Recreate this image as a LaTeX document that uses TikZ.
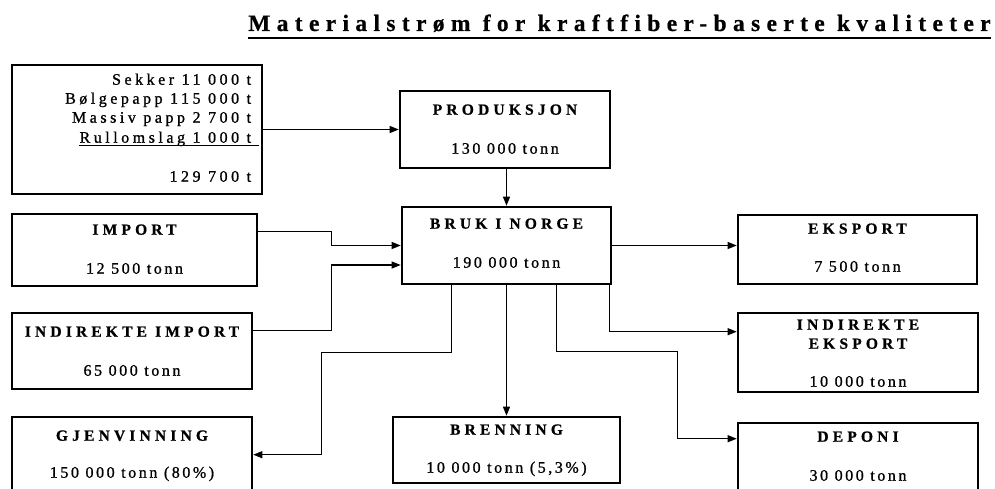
\documentclass[tikz,border=0pt]{standalone}
\usepackage{fontspec}
\setmainfont{Liberation Serif}
\newfontfamily\spT[LetterSpace=27, FakeBold=0.6]{Liberation Serif Bold}
\newfontfamily\spH[LetterSpace=27, FakeBold=0.8]{Liberation Serif Bold}
\newfontfamily\spV[LetterSpace=16, FakeBold=1.0]{Liberation Serif}
\newfontfamily\spS[LetterSpace=22, FakeBold=1.0]{Liberation Serif}
\usetikzlibrary{arrows.meta,calc}
\tikzset{
  box/.style={draw, line width=2.6pt, inner sep=0pt},
  hd/.style={font=\spH\fontsize{15.5}{17}\selectfont, anchor=base, inner sep=0pt},
  val/.style={font=\spV\fontsize{16}{18}\selectfont, anchor=base, inner sep=0pt},
  srct/.style={font=\spS\fontsize{16}{18}\selectfont, anchor=base east, inner sep=0pt},
  arr/.style={line width=1.2pt, -{Triangle[length=9pt,width=7pt]}},
}
\begin{document}
\begin{tikzpicture}[x=1pt,y=-1pt]
\path[use as bounding box] (0,0) rectangle (995,489);
\clip (0,0) rectangle (995,489);
\fill[white] (0,0) rectangle (995,489);

% title
\node[anchor=base west, font=\spT\fontsize{23.5}{27}\selectfont, inner sep=0pt] (ttl) at (248,31) {Materialstrøm for kraftfiber-baserte kvaliteter};
\draw[line width=1.8pt] ($(ttl.base west)+(0,7)$) -- ($(ttl.base east)+(0,7)$);

% boxes
\node[box, minimum width=250pt, minimum height=129pt] (src) at (137,129.5) {};
\node[box, minimum width=210pt, minimum height=77pt] (prod) at (505,129.5) {};
\node[box, minimum width=209pt, minimum height=77pt] (bruk) at (506.5,245.5) {};
\node[box, minimum width=245pt, minimum height=72pt] (imp) at (134.5,250) {};
\node[box, minimum width=240pt, minimum height=76pt] (iimp) at (132,351) {};
\node[box, minimum width=240pt, minimum height=83pt] (gjen) at (132,458.5) {};
\node[box, minimum width=227pt, minimum height=66pt] (bren) at (506.5,450) {};
\node[box, minimum width=239pt, minimum height=69pt] (eks) at (857.5,249.5) {};
\node[box, minimum width=240pt, minimum height=79pt] (ieks) at (858,352.5) {};
\node[box, minimum width=240pt, minimum height=77pt] (dep) at (858,461.5) {};

% source text
\node[srct] (s1) at ($(src.north east)+(-12,21)$) {Sekker 11 000 t};
\node[srct] (s2) at ($(src.north east)+(-12,40)$) {Bølgepapp 115 000 t};
\node[srct] (s3) at ($(src.north east)+(-12,59)$) {Massiv papp 2 700 t};
\node[srct] (s4) at ($(src.north east)+(-12,79)$) {Rullomslag 1 000 t};
\node[srct] (s5) at ($(src.north east)+(-12,118)$) {129 700 t};
\draw[line width=1.2pt] ($(s4.base west)+(0,3)$) -- ($(s4.base west -| src.east)+(-4,3)$);

% box texts
\node[hd] (prodT) at ($(prod.north)+(0,25)$) {PRODUKSJON};
\node[val] (prodV) at ($(prod.north)+(0,64)$) {130 000 tonn};
\node[hd] (brukT) at ($(bruk.north)+(0,23)$) {BRUK I NORGE};
\node[val] (brukV) at ($(bruk.north)+(0,62)$) {190 000 tonn};
\node[hd] (impT) at ($(imp.north)+(0,22)$) {IMPORT};
\node[val] (impV) at ($(imp.north)+(0,61)$) {12 500 tonn};
\node[hd] (iimpT) at ($(iimp.north)+(0,25)$) {INDIREKTE IMPORT};
\node[val] (iimpV) at ($(iimp.north)+(0,64)$) {65 000 tonn};
\node[hd] (gjenT) at ($(gjen.north)+(0,25)$) {GJENVINNING};
\node[val] (gjenV) at ($(gjen.north)+(0,62)$) {150 000 tonn (80\%)};
\node[hd] (brenT) at ($(bren.north)+(0,19)$) {BRENNING};
\node[val] (brenV) at ($(bren.north)+(0,57)$) {10 000 tonn (5,3\%)};
\node[hd] (eksT) at ($(eks.north)+(0,20)$) {EKSPORT};
\node[val] (eksV) at ($(eks.north)+(0,58)$) {7 500 tonn};
\node[hd] (ieksT1) at ($(ieks.north)+(0,18)$) {INDIREKTE};
\node[hd] (ieksT2) at ($(ieks.north)+(0,37)$) {EKSPORT};
\node[val] (ieksV) at ($(ieks.north)+(0,75)$) {10 000 tonn};
\node[hd] (depT) at ($(dep.north)+(0,20)$) {DEPONI};
\node[val] (depV) at ($(dep.north)+(0,59)$) {30 000 tonn};

% connectors
\draw[arr] (src.east) -- (prod.west);
\draw[arr] (bruk.north |- prod.south) -- (bruk.north);
\draw[arr] ($(imp.north east)+(0,19)$) -- ++(73,0) |- (bruk.west);
\draw[arr] ($(iimp.north east)+(0,19)$) -- ++(78,0) |- ($(bruk.west)+(0,19.5)$);
\draw[arr] ($(bruk.south west)+(51,0)$) -- ++(0,67) -- ++(-130,0) |- ($(gjen.north east)+(0,39)$);
\draw[arr] (bruk.south) -- (bren.north);
\draw[arr] (bruk.east) -- (bruk.east -| eks.west);
\draw[arr] ($(bruk.south east)+(-3,0)$) |- ($(ieks.north west)+(0,20)$);
\draw[arr] ($(bruk.south west)+(156,0)$) -- ++(0,66) -- ++(121,0) |- ($(dep.north west)+(0,17)$);
\end{tikzpicture}
\end{document}
